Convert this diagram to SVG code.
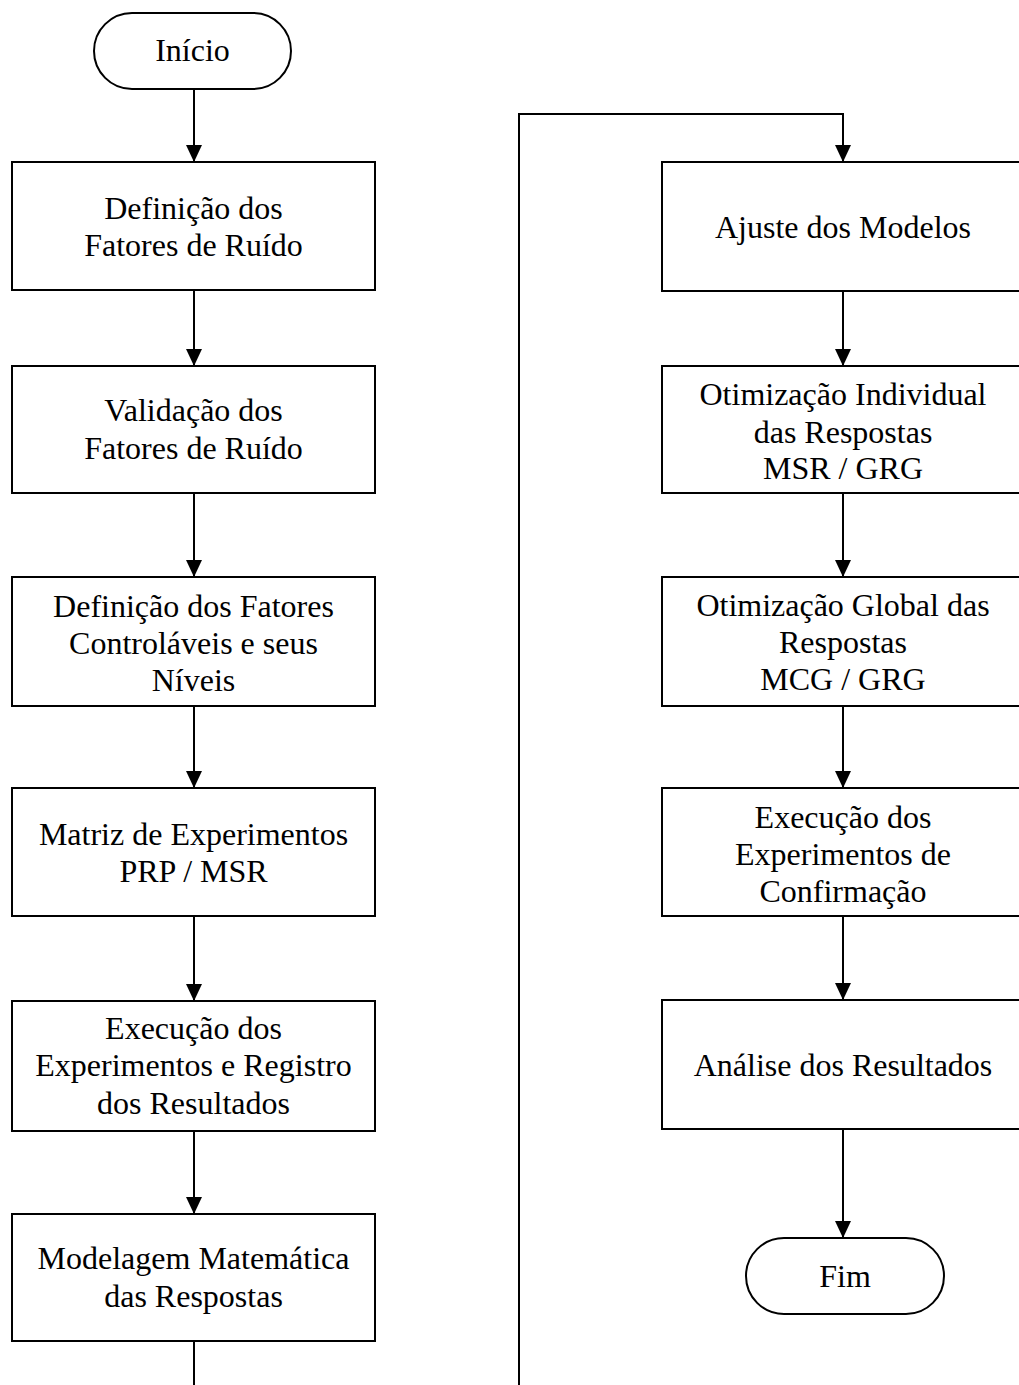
<svg xmlns="http://www.w3.org/2000/svg" width="1019" height="1385" viewBox="0 0 1019 1385">
<style>
.box{fill:#fff;stroke:#000;stroke-width:2}
.t{font-family:"Liberation Serif","Times New Roman",serif;font-size:32px;fill:#000;text-anchor:middle}
.c{fill:none;stroke:#000;stroke-width:2}
</style>
<defs>
<marker id="ah" viewBox="0 0 17 16" refX="17" refY="8" markerWidth="17" markerHeight="16" markerUnits="userSpaceOnUse" orient="auto">
<path d="M0,0 L17,8 L0,16 Z" fill="#000"/>
</marker>
</defs>
<rect width="1019" height="1385" fill="#fff"/>
<g id="connectors">
<path class="c" d="M194,89 V162" marker-end="url(#ah)"/>
<path class="c" d="M194,290 V366" marker-end="url(#ah)"/>
<path class="c" d="M194,493 V577" marker-end="url(#ah)"/>
<path class="c" d="M194,706 V788" marker-end="url(#ah)"/>
<path class="c" d="M194,916 V1001" marker-end="url(#ah)"/>
<path class="c" d="M194,1131 V1214" marker-end="url(#ah)"/>
<path class="c" d="M194,1341 V1385"/>
<path class="c" d="M519,1385 V114 H843 V162" marker-end="url(#ah)"/>
<path class="c" d="M843,291 V366" marker-end="url(#ah)"/>
<path class="c" d="M843,493 V577" marker-end="url(#ah)"/>
<path class="c" d="M843,706 V788" marker-end="url(#ah)"/>
<path class="c" d="M843,916 V1000" marker-end="url(#ah)"/>
<path class="c" d="M843,1129 V1238" marker-end="url(#ah)"/>
</g>
<g id="inicio">
<rect class="box" x="94" y="13" width="197" height="76" rx="38" ry="38"/>
<text class="t" x="192.5" y="61">Início</text>
</g>
<g id="n1">
<rect class="box" x="12" y="162" width="363" height="128"/>
<text class="t" x="193.5" y="219">Definição dos</text>
<text class="t" x="193.5" y="256">Fatores de Ruído</text>
</g>
<g id="n2">
<rect class="box" x="12" y="366" width="363" height="127"/>
<text class="t" x="193.5" y="421">Validação dos</text>
<text class="t" x="193.5" y="459">Fatores de Ruído</text>
</g>
<g id="n3">
<rect class="box" x="12" y="577" width="363" height="129"/>
<text class="t" x="193.5" y="617">Definição dos Fatores</text>
<text class="t" x="193.5" y="654">Controláveis e seus</text>
<text class="t" x="193.5" y="691">Níveis</text>
</g>
<g id="n4">
<rect class="box" x="12" y="788" width="363" height="128"/>
<text class="t" x="193.5" y="845">Matriz de Experimentos</text>
<text class="t" x="193.5" y="882">PRP / MSR</text>
</g>
<g id="n5">
<rect class="box" x="12" y="1001" width="363" height="130"/>
<text class="t" x="193.5" y="1039">Execução dos</text>
<text class="t" x="193.5" y="1076">Experimentos e Registro</text>
<text class="t" x="193.5" y="1114">dos Resultados</text>
</g>
<g id="n6">
<rect class="box" x="12" y="1214" width="363" height="127"/>
<text class="t" x="193.5" y="1269">Modelagem Matemática</text>
<text class="t" x="193.5" y="1307">das Respostas</text>
</g>
<g id="r1">
<rect class="box" x="662" y="162" width="365" height="129"/>
<text class="t" x="843" y="238">Ajuste dos Modelos</text>
</g>
<g id="r2">
<rect class="box" x="662" y="366" width="365" height="127"/>
<text class="t" x="843" y="405">Otimização Individual</text>
<text class="t" x="843" y="443">das Respostas</text>
<text class="t" x="843" y="479">MSR / GRG</text>
</g>
<g id="r3">
<rect class="box" x="662" y="577" width="365" height="129"/>
<text class="t" x="843" y="616">Otimização Global das</text>
<text class="t" x="843" y="653">Respostas</text>
<text class="t" x="843" y="690">MCG / GRG</text>
</g>
<g id="r4">
<rect class="box" x="662" y="788" width="365" height="128"/>
<text class="t" x="843" y="828">Execução dos</text>
<text class="t" x="843" y="865">Experimentos de</text>
<text class="t" x="843" y="902">Confirmação</text>
</g>
<g id="r5">
<rect class="box" x="662" y="1000" width="365" height="129"/>
<text class="t" x="843" y="1076">Análise dos Resultados</text>
</g>
<g id="fim">
<rect class="box" x="746" y="1238" width="198" height="76" rx="38" ry="38"/>
<text class="t" x="845" y="1287">Fim</text>
</g>
</svg>
